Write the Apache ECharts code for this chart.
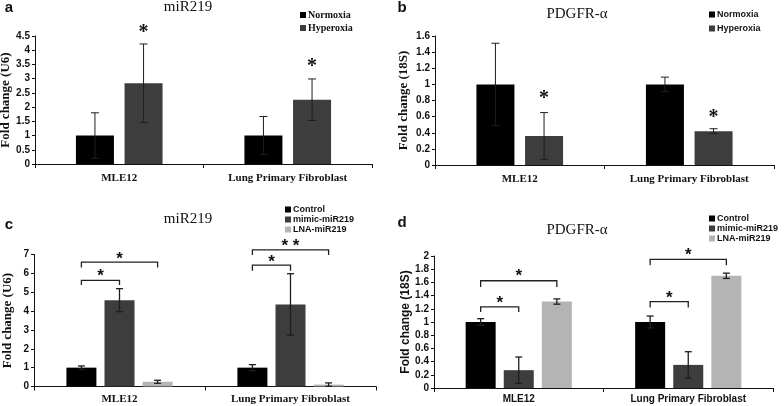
<!DOCTYPE html>
<html>
<head>
<meta charset="utf-8">
<script src="https://cdn.jsdelivr.net/npm/echarts@6/dist/echarts.min.js"></script>
<style>
  html, body { margin: 0; padding: 0; background: #fff; }
  #main { width: 784px; height: 406px; }
</style>
</head>
<body>
<div id="main"></div>
<script>
// ---- data ----
var categories = ['MLE12', 'Lung Primary Fibroblast'];

// a: miR219, normoxia vs hyperoxia
var aNormoxia = [1, 1];
var aNormoxiaErr = [0.8, 0.67];
var aHyperoxia = [2.84, 2.26];
var aHyperoxiaErr = [1.38, 0.73];
var aStarY = [4.74, 3.54];

// b: PDGFR-a, normoxia vs hyperoxia
var bNormoxia = [1, 1];
var bNormoxiaErr = [0.51, 0.09];
var bHyperoxia = [0.36, 0.42];
var bHyperoxiaErr = [0.29, 0.03];
var bStarY = [0.87, 0.63];

// c: miR219 after transfection
var cControl = [1, 1];
var cControlErr = [0.09, 0.16];
var cMimic = [4.58, 4.35];
var cMimicErr = [0.61, 1.63];
var cLna = [0.25, 0.1];
var cLnaErr = [0.08, 0.09];
// [category, fromBar, toBar, lineLevel, legLevel, starLevel]
var cBrackets = [[0, 0, 1, 5.63, 5.38, 6.03], [0, 0, 2, 6.6, 6.31, 6.97],
                 [1, 0, 1, 6.44, 6.14, 6.79], [1, 0, 2, 7.25, 6.98, 7.62]];
var cBracketText = ['*', '*', '*', '* *'];

// d: PDGFR-a after transfection
var dControl = [1, 1];
var dControlErr = [0.05, 0.09];
var dMimic = [0.27, 0.35];
var dMimicErr = [0.2, 0.2];
var dLna = [1.31, 1.7];
var dLnaErr = [0.04, 0.04];
var dBrackets = [[0, 0, 1, 1.23, 1.15, 1.34], [0, 0, 2, 1.625, 1.53, 1.75],
                 [1, 0, 1, 1.31, 1.22, 1.42], [1, 0, 2, 1.95, 1.86, 2.07]];
var dBracketText = ['*', '*', '*', '*'];

// ---- helpers ----
var SERIF = '"Liberation Serif", "Times New Roman", serif';
var SANS = '"Liberation Sans", Arial, sans-serif';
var BLACK = '#000000', DARK = '#3d3d3d', LIGHT = '#b4b4b4';

// bar centre offsets inside a category, px
var twoOffsets = [-24.3, 24.3];
var threeOffsets = [-38.1, 0, 38.1];
// asterisks sit high in their em box, push them down a bit
var STAR_SHIFT = 4;

function zip(vals, errs) {
    return vals.map(function (v, i) { return [i, v, errs[i]]; });
}

function errorSeries(axis, vals, errs, offset, cap, width) {
    return {
        type: 'custom', xAxisIndex: axis, yAxisIndex: axis, z: 5, silent: true,
        data: zip(vals, errs),
        renderItem: function (params, api) {
            var x = api.coord([api.value(0), 0])[0] + offset;
            var hi = api.coord([api.value(0), api.value(1) + api.value(2)])[1];
            var lo = api.coord([api.value(0), api.value(1) - api.value(2)])[1];
            var st = { stroke: '#1e1e1e', lineWidth: width };
            return { type: 'group', children: [
                { type: 'line', shape: { x1: x, y1: hi, x2: x, y2: lo }, style: st },
                { type: 'line', shape: { x1: x - cap, y1: hi, x2: x + cap, y2: hi }, style: st },
                { type: 'line', shape: { x1: x - cap, y1: lo, x2: x + cap, y2: lo }, style: st }
            ]};
        }
    };
}

function starSeries(axis, levels, offset) {
    return {
        type: 'custom', xAxisIndex: axis, yAxisIndex: axis, z: 6, silent: true, clip: false,
        data: levels.map(function (v, i) { return [i, v]; }),
        renderItem: function (params, api) {
            var p = api.coord([api.value(0), api.value(1)]);
            return { type: 'text', x: p[0] + offset, y: p[1] + STAR_SHIFT,
                style: { text: '*', fill: '#111', font: 'bold 20px ' + SERIF,
                         align: 'center', verticalAlign: 'middle' } };
        }
    };
}

function bracketSeries(axis, rows, texts) {
    return {
        type: 'custom', xAxisIndex: axis, yAxisIndex: axis, z: 6, silent: true, clip: false,
        data: rows,
        renderItem: function (params, api) {
            var cat = api.value(0);
            var cx = api.coord([cat, 0])[0];
            var x1 = cx + threeOffsets[api.value(1)];
            var x2 = cx + threeOffsets[api.value(2)];
            var y = api.coord([cat, api.value(3)])[1];
            var yl = api.coord([cat, api.value(4)])[1];
            var ys = api.coord([cat, api.value(5)])[1];
            return { type: 'group', children: [
                { type: 'polyline', shape: { points: [[x1, yl], [x1, y], [x2, y], [x2, yl]] },
                  style: { stroke: '#222', lineWidth: 1.3, fill: null } },
                { type: 'text', x: (x1 + x2) / 2, y: ys + STAR_SHIFT,
                  style: { text: texts[params.dataIndex], fill: '#111', font: 'bold 17px ' + SANS,
                           align: 'center', verticalAlign: 'middle' } }
            ]};
        }
    };
}

function barSeries(name, axis, vals, color, width, gap) {
    return {
        name: name, type: 'bar', xAxisIndex: axis, yAxisIndex: axis,
        data: vals, barWidth: width, barGap: gap, itemStyle: { color: color },
        silent: true
    };
}

function xAxisFor(grid, labelFont, labelSize, margin) {
    return {
        type: 'category', gridIndex: grid, data: categories,
        axisLine: { lineStyle: { color: '#111', width: 1 } },
        axisTick: { show: true, interval: 0, length: 4, lineStyle: { color: '#111' } },
        axisLabel: { interval: 0, margin: margin, color: '#111', fontFamily: labelFont,
                     fontWeight: 'bold', fontSize: labelSize },
        splitLine: { show: false }
    };
}

function yAxisFor(grid, max, step, name, nameFont, nameSize, gap) {
    return {
        type: 'value', gridIndex: grid, min: 0, max: max, interval: step,
        name: name, nameLocation: 'middle', nameGap: gap,
        nameTextStyle: { fontFamily: nameFont, fontWeight: 'bold', fontSize: nameSize, color: '#111' },
        axisLine: { show: true, lineStyle: { color: '#111', width: 1 } },
        axisTick: { show: true, length: 3, lineStyle: { color: '#111' } },
        axisLabel: { margin: 5, color: '#111', fontFamily: SANS, fontWeight: 'bold', fontSize: 10 },
        splitLine: { show: false }
    };
}

function legendFor(names, left, top, font, size, gap) {
    return {
        data: names, orient: 'vertical', left: left, top: top, padding: 0,
        itemWidth: 6, itemHeight: 6, itemGap: gap, icon: 'rect', selectedMode: false,
        textStyle: { fontFamily: font, fontWeight: 'bold', fontSize: size, color: '#111',
                     lineHeight: size, padding: [0, 0, 0, -3] }
    };
}

function titleAt(text, x, y, font, size, weight) {
    return { text: text, left: x, top: y, textAlign: 'center', padding: 0,
             textStyle: { fontFamily: font, fontSize: size, fontWeight: weight, color: '#111' } };
}

var chart = echarts.init(document.getElementById('main'), null, { renderer: 'canvas' });

chart.setOption({
    animation: false,
    backgroundColor: '#ffffff',
    title: [
        titleAt('miR219', 188, 0, SERIF, 15, 'normal'),
        titleAt('PDGFR-\u03b1', 577, 7, SERIF, 15, 'normal'),
        titleAt('miR219', 188, 212, SERIF, 15, 'normal'),
        titleAt('PDGFR-\u03b1', 577, 223, SERIF, 15, 'normal'),
        titleAt('a', 9, 0, SANS, 15, 'bold'),
        titleAt('b', 402, 0, SANS, 15, 'bold'),
        titleAt('c', 9, 217, SANS, 15, 'bold'),
        titleAt('d', 402, 215, SANS, 15, 'bold')
    ],
    legend: [
        legendFor(['Normoxia', 'Hyperoxia'], 300, 10, SERIF, 10, 3),
        legendFor(['Normoxia', 'Hyperoxia'], 709, 10, SANS, 9, 5),
        legendFor(['Control', 'mimic-miR219', 'LNA-miR219'], 285, 205, SANS, 9, 1),
        legendFor(['Control', 'mimic-miR219', 'LNA-miR219'], 709, 214, SANS, 9, 1)
    ],
    grid: [
        { left: 35, top: 36, width: 337, height: 128, containLabel: false, outerBoundsMode: 'none' },
        { left: 435, top: 36, width: 339, height: 129, containLabel: false, outerBoundsMode: 'none' },
        { left: 34, top: 254.5, width: 342, height: 132, containLabel: false, outerBoundsMode: 'none' },
        { left: 434, top: 256, width: 339, height: 132, containLabel: false, outerBoundsMode: 'none' }
    ],
    xAxis: [
        xAxisFor(0, SERIF, 11, 9),
        xAxisFor(1, SERIF, 11, 9),
        xAxisFor(2, SERIF, 11, 7),
        xAxisFor(3, SANS, 10, 6)
    ],
    yAxis: [
        yAxisFor(0, 4.5, 0.5, 'Fold change (U6)', SERIF, 13, 20),
        yAxisFor(1, 1.6, 0.2, 'Fold change (18S)', SERIF, 13, 25),
        yAxisFor(2, 7, 1, 'Fold change (U6)', SERIF, 13, 20),
        yAxisFor(3, 2, 0.2, 'Fold change (18S)', SANS, 12, 21)
    ],
    series: [
        barSeries('Normoxia', 0, aNormoxia, BLACK, 38, '28%'),
        barSeries('Hyperoxia', 0, aHyperoxia, DARK, 38, '28%'),
        errorSeries(0, aNormoxia, aNormoxiaErr, twoOffsets[0], 4, 1),
        errorSeries(0, aHyperoxia, aHyperoxiaErr, twoOffsets[1], 4, 1),
        starSeries(0, aStarY, twoOffsets[1]),

        barSeries('Normoxia', 1, bNormoxia, BLACK, 38, '28%'),
        barSeries('Hyperoxia', 1, bHyperoxia, DARK, 38, '28%'),
        errorSeries(1, bNormoxia, bNormoxiaErr, twoOffsets[0], 4, 1),
        errorSeries(1, bHyperoxia, bHyperoxiaErr, twoOffsets[1], 4, 1),
        starSeries(1, bStarY, twoOffsets[1]),

        barSeries('Control', 2, cControl, BLACK, 30, '27%'),
        barSeries('mimic-miR219', 2, cMimic, DARK, 30, '27%'),
        barSeries('LNA-miR219', 2, cLna, LIGHT, 30, '27%'),
        errorSeries(2, cControl, cControlErr, threeOffsets[0], 3.5, 1.3),
        errorSeries(2, cMimic, cMimicErr, threeOffsets[1], 3.5, 1.3),
        errorSeries(2, cLna, cLnaErr, threeOffsets[2], 3.5, 1.3),
        bracketSeries(2, cBrackets, cBracketText),

        barSeries('Control', 3, dControl, BLACK, 30, '27%'),
        barSeries('mimic-miR219', 3, dMimic, DARK, 30, '27%'),
        barSeries('LNA-miR219', 3, dLna, LIGHT, 30, '27%'),
        errorSeries(3, dControl, dControlErr, threeOffsets[0], 3.5, 1.3),
        errorSeries(3, dMimic, dMimicErr, threeOffsets[1], 3.5, 1.3),
        errorSeries(3, dLna, dLnaErr, threeOffsets[2], 3.5, 1.3),
        bracketSeries(3, dBrackets, dBracketText)
    ]
});
</script>
</body>
</html>
